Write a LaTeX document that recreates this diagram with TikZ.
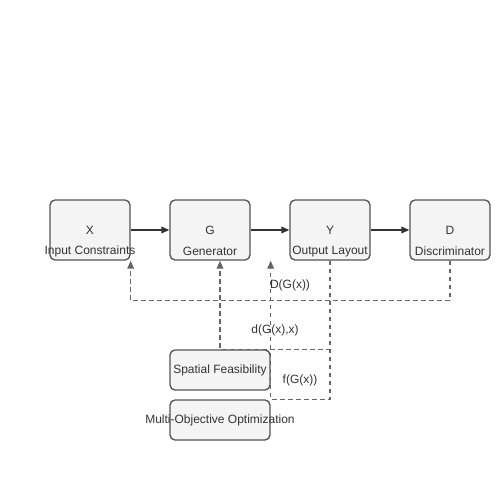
\documentclass[tikz,border=0pt]{standalone}
\usepackage{fontspec}
\setmainfont{Liberation Sans}
\usetikzlibrary{arrows.meta}
\definecolor{boxfill}{HTML}{F4F4F4}
\definecolor{boxline}{HTML}{555555}
\definecolor{textgray}{HTML}{333333}
\definecolor{dashgray}{HTML}{666666}

\begin{document}
\begin{tikzpicture}[
        x=0.75pt, y=-0.75pt,
        every node/.style={align=center, font=\fontsize{9}{11}\selectfont, text=textgray},
        block/.style={draw=boxline, fill=boxfill, rounded corners=3.75pt, line width=1pt,
            minimum width=60pt, minimum height=45pt, inner sep=0pt},
        smallblock/.style={block, minimum width=75pt, minimum height=30pt},
        every label/.style={inner sep=0pt},
        namelabel/.style={label={[yshift=-16pt]center:#1}},
        flow/.style={draw=textgray, line width=1pt, -{Triangle[length=6pt,width=5pt]}},
        feedback/.style={draw=dashgray, line width=1pt, dash pattern=on 3.5pt off 2.5pt,
            -{Triangle[length=6pt,width=5pt]}},
    ]
    \useasboundingbox (0,0) rectangle (500,500);
    \node[block, namelabel=Input Constraints] (x) at (90,230) {X};
    \node[block, namelabel=Generator] (g) at (210,230) {G};
    \node[block, namelabel=Output Layout] (y) at (330,230) {Y};
    \node[block, namelabel=Discriminator] (d) at (450,230) {D};
    \node[smallblock, label=center:Spatial Feasibility] (sf) at (220,370) {};
    \node[smallblock, label=center:Multi-Objective Optimization] (moo) at (220,420) {};
    \coordinate (fin) at (moo.north east |- g.south);

    \draw[flow] (x) -- (g);
    \draw[flow] (g) -- (y);
    \draw[flow] (y) -- (d);

    \draw[feedback] (d.south) -- ++(0,40) -| (x.south east);
    \draw[feedback] (y.south) |- (sf.north) -- (sf.north |- g.south);
    \draw[feedback] (y.south) |- (moo.north east) -- (fin);

    \node (dgx) at (290,285) {D(G(x))};
    \node (dgxx) at (275,330) {d(G(x),x)};
    \node (fgx) at (300,380) {f(G(x))};
\end{tikzpicture}
\end{document}
